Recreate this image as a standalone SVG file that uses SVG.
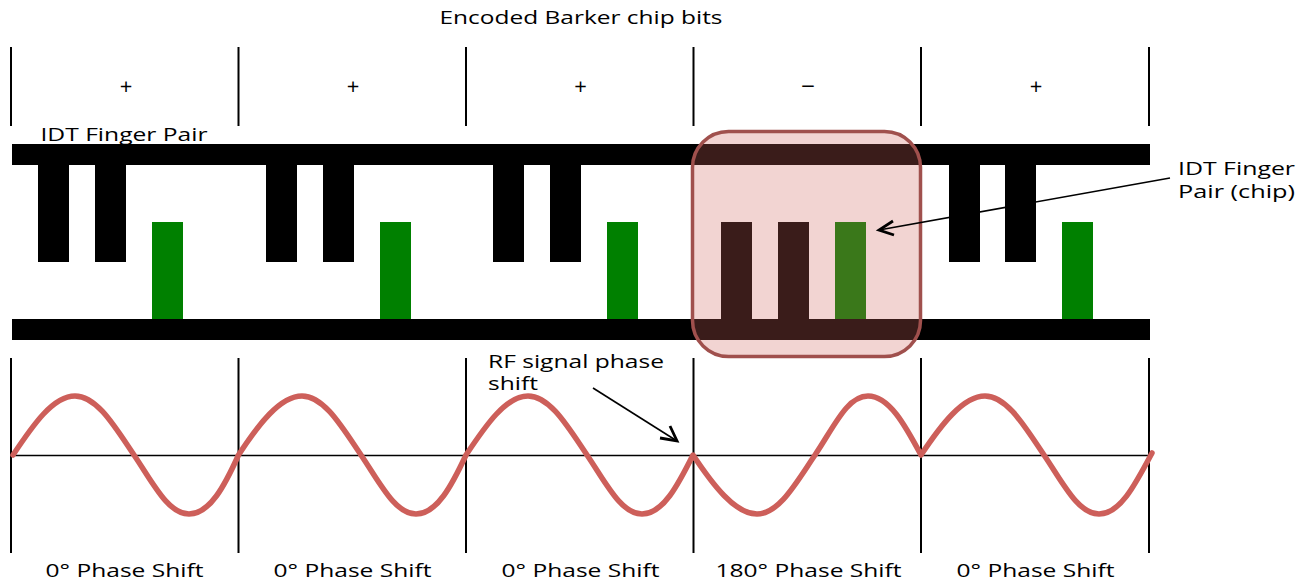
<svg xmlns="http://www.w3.org/2000/svg" width="1306" height="582" viewBox="0 0 1306 582">
<style>
text{font-family:"Open Sans","DejaVu Sans",sans-serif;fill:#000;font-size:18px}
.s{font-size:22px;text-anchor:middle}
.bar{fill:#000}.g{fill:#008000}
.v{stroke:#000;stroke-width:2;fill:none}
.arrow{stroke:#000;stroke-width:1.6;fill:none}
.head{stroke:#000;stroke-width:2.8;fill:none}
</style>
<rect width="1306" height="582" fill="#fff"/>
<text id="title" x="439.500" y="24" textLength="283" lengthAdjust="spacingAndGlyphs">Encoded Barker chip bits</text>
<g id="chip-labels">
<text class="s" x="126" y="94">+</text><text class="s" x="353" y="94">+</text><text class="s" x="580.500" y="94">+</text><text class="s" x="808" y="94" textLength="14" lengthAdjust="spacingAndGlyphs">−</text><text class="s" x="1036" y="94">+</text>
</g>
<text id="idt-label" x="40.500" y="141" textLength="167" lengthAdjust="spacingAndGlyphs">IDT Finger Pair</text>
<g id="dividers">
<path class="v" d="M11 47V126M238.500 47V126M466 47V126M693.500 47V126M921 47V126M1149 47V126M11 358V553M238.500 358V553M466 358V553M693.500 358V553M921 358V553M1149 358V553"/>
</g>
<g id="idt">
<rect class="bar" x="12" y="144" width="1138" height="21"/>
<rect class="bar" x="12" y="319" width="1138" height="21"/>
<g id="chip1"><rect class="bar" x="38" y="165" width="31" height="97"/><rect class="bar" x="95" y="165" width="31" height="97"/><rect class="g" x="152" y="222" width="31" height="97"/></g>
<g id="chip2"><rect class="bar" x="266" y="165" width="31" height="97"/><rect class="bar" x="323" y="165" width="31" height="97"/><rect class="g" x="380" y="222" width="31" height="97"/></g>
<g id="chip3"><rect class="bar" x="493" y="165" width="31" height="97"/><rect class="bar" x="550" y="165" width="31" height="97"/><rect class="g" x="607" y="222" width="31" height="97"/></g>
<g id="chip4"><rect class="bar" x="721" y="222" width="31" height="97"/><rect class="bar" x="778" y="222" width="31" height="97"/><rect class="g" x="835" y="222" width="31" height="97"/></g>
<g id="chip5"><rect class="bar" x="949" y="165" width="31" height="97"/><rect class="bar" x="1005" y="165" width="31" height="97"/><rect class="g" x="1062" y="222" width="31" height="97"/></g>
</g>
<g id="highlight"><rect x="692.500" y="131.500" width="228" height="225" rx="36" fill="#CF645D" fill-opacity=".28" stroke="#A0504D" stroke-width="3.500"/></g>
<g id="connectors">
<path class="arrow" d="M1170 178L879 230"/>
<path class="head" d="M893 221L879 230L894 235"/>
<path class="arrow" d="M593 388L677 441"/>
<path class="head" d="M660 438L677 441L670 426"/>
</g>
<g id="signal">
<path d="M11 455.500H1150" stroke="#000" stroke-width="1.500"/>
<path d="M13 455C33 425 53 396 75 396C97 396 115 427 134 455C153 483 168 514 189 514C210 514 225 485 238.500 455C258 425 280 396 302 396C324 396 342 427 361 455C380 483 395 514 416 514C437 514 452 485 466 455C486 425 506 396 528 396C550 396 568 427 587 455C606 483 621 514 642 514C663 514 678 485 693 455C713 485 735 514 757 514C779 514 796 483 815 455C834 427 847 396 868 396C889 396 905 425 921 455C941 425 963 396 985 396C1007 396 1025 427 1044 455C1063 483 1078 514 1099 514C1120 514 1135 485 1152 453" fill="none" stroke="#CD5F5A" stroke-width="5.500" stroke-linejoin="round" stroke-linecap="round"/>
</g>
<g id="annotations">
<text x="1178" y="175" textLength="117" lengthAdjust="spacingAndGlyphs">IDT Finger</text>
<text x="1178" y="198" textLength="117" lengthAdjust="spacingAndGlyphs">Pair (chip)</text>
<text x="488" y="368" textLength="176" lengthAdjust="spacingAndGlyphs">RF signal phase</text>
<text x="488" y="390" textLength="50" lengthAdjust="spacingAndGlyphs">shift</text>
</g>
<g id="phase-labels">
<text x="45.500" y="577" textLength="158" lengthAdjust="spacingAndGlyphs">0° Phase Shift</text>
<text x="273.500" y="577" textLength="158" lengthAdjust="spacingAndGlyphs">0° Phase Shift</text>
<text x="501.500" y="577" textLength="158" lengthAdjust="spacingAndGlyphs">0° Phase Shift</text>
<text x="715.500" y="577" textLength="186" lengthAdjust="spacingAndGlyphs">180° Phase Shift</text>
<text x="956.500" y="577" textLength="158" lengthAdjust="spacingAndGlyphs">0° Phase Shift</text>
</g>
</svg>
